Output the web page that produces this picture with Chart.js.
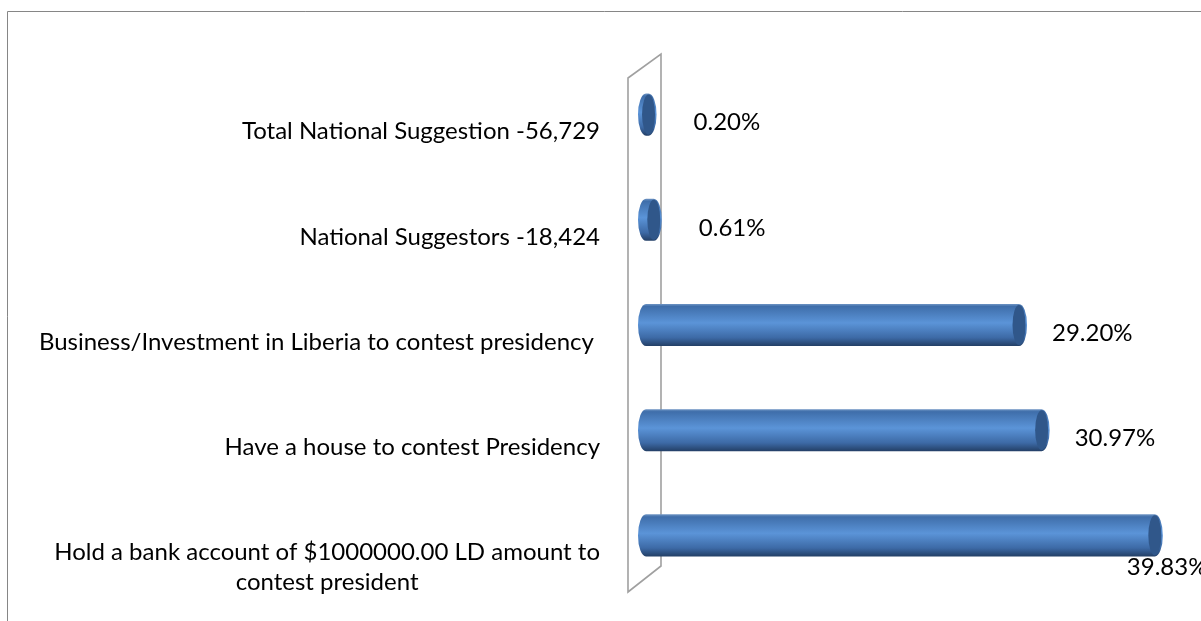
<!DOCTYPE html>
<html>
<head>
<meta charset="utf-8">
<script src="https://cdn.jsdelivr.net/npm/chart.js@4.4.1/dist/chart.umd.min.js"></script>
<style>
  html, body { margin: 0; padding: 0; background: #fff; }
  #wrap { width: 1201px; height: 621px; position: relative; }
</style>
</head>
<body>
<div id="wrap"><canvas id="chart"></canvas></div>
<script>
// categories, top to bottom (multi-line labels as arrays)
const categories = [
    'Total National Suggestion -56,729',
    'National Suggestors -18,424',
    'Business/Investment in Liberia to contest presidency ',
    'Have a house to contest Presidency',
    ['Hold a bank account of $1000000.00 LD amount to', 'contest president']
];
// percentages
const values = [0.20, 0.61, 29.20, 30.97, 39.83];
const valueLabels = ['0.20%', '0.61%', '29.20%', '30.97%', '39.83%'];

const FONT = '24px Lato, Carlito, "Open Sans", sans-serif';

// outer frame of the chart object (only top and left edges are visible)
const framePlugin = {
    id: 'frame',
    beforeDraw(chart) {
        const ctx = chart.ctx;
        ctx.save();
        ctx.strokeStyle = '#868686';
        ctx.lineWidth = 1;
        ctx.beginPath();
        ctx.moveTo(7.5, chart.height);
        ctx.lineTo(7.5, 11.5);
        ctx.lineTo(chart.width, 11.5);
        ctx.stroke();
        ctx.restore();
    }
};

// the thin 3D back wall behind the bars
const wallPlugin = {
    id: 'wall',
    beforeDatasetsDraw(chart) {
        const ctx = chart.ctx;
        const area = chart.chartArea;
        const base = chart.scales.x.getPixelForValue(0);
        const l = base - 18, r = base + 15;
        ctx.save();
        ctx.strokeStyle = '#a0a0a0';
        ctx.lineWidth = 1.6;
        ctx.beginPath();
        ctx.moveTo(l, area.top + 16);
        ctx.lineTo(r, area.top - 8);
        ctx.lineTo(r, area.bottom - 22);
        ctx.lineTo(l, area.bottom + 4);
        ctx.closePath();
        ctx.stroke();
        ctx.restore();
    }
};

// cylinders drawn over the (transparent) bar elements
const cylinderPlugin = {
    id: 'cylinder',
    afterDatasetsDraw(chart) {
        const ctx = chart.ctx;
        const meta = chart.getDatasetMeta(0);
        meta.data.forEach(function(bar) {
            const h = bar.height;
            const top = bar.y - h / 2, bottom = bar.y + h / 2;
            const ry = h / 2, rx = 8;
            const base = bar.base, end = bar.x;

            const grad = ctx.createLinearGradient(0, top, 0, bottom);
            grad.addColorStop(0, '#6f95c4');
            grad.addColorStop(0.06, '#3f6eaa');
            grad.addColorStop(0.45, '#5b94d8');
            grad.addColorStop(0.8, '#3d6aa6');
            grad.addColorStop(1, '#233f66');

            ctx.save();
            ctx.beginPath();
            ctx.moveTo(base, top);
            ctx.lineTo(end, top);
            ctx.ellipse(end, bar.y, rx, ry, 0, -Math.PI / 2, Math.PI / 2);
            ctx.lineTo(base, bottom);
            ctx.ellipse(base, bar.y, rx, ry, 0, Math.PI / 2, Math.PI * 1.5);
            ctx.closePath();
            ctx.fillStyle = grad;
            ctx.fill();

            // end cap
            ctx.beginPath();
            ctx.ellipse(end, bar.y, rx - 1.5, ry - 1, 0, 0, Math.PI * 2);
            ctx.fillStyle = '#30578a';
            ctx.fill();
            ctx.restore();
        });
    }
};

// category labels and value labels
const labelPlugin = {
    id: 'labels',
    afterDraw(chart) {
        const ctx = chart.ctx;
        const yScale = chart.scales.y;
        const xScale = chart.scales.x;
        ctx.save();
        ctx.font = FONT;
        ctx.fillStyle = '#000';
        ctx.textBaseline = 'middle';

        // category labels: block right-aligned at x=600, lines centered in the block
        const right = 600;
        categories.forEach(function(cat, i) {
            const lines = Array.isArray(cat) ? cat : [cat];
            const y = yScale.getPixelForValue(i) + 17;
            const w = Math.max.apply(null, lines.map(s => ctx.measureText(s).width));
            ctx.textAlign = lines.length > 1 ? 'center' : 'right';
            lines.forEach(function(line, k) {
                const x = lines.length > 1 ? right - w / 2 : right;
                ctx.fillText(line, x, y + k * 30);
            });
        });

        // value labels beside the cylinder ends
        ctx.textAlign = 'left';
        values.forEach(function(v, i) {
            const endX = xScale.getPixelForValue(v);
            const y = yScale.getPixelForValue(i);
            const text = valueLabels[i];
            const w = ctx.measureText(text).width;
            let x = endX + (v < 1 ? 45 : 33);
            let ty = y + 8;
            if (x + w > chart.width + 20) {
                // no room at the side: drop it under the bar end
                x = endX - 28;
                ty = y + 32;
            }
            ctx.fillText(text, x, ty);
        });
        ctx.restore();
    }
};

new Chart(document.getElementById('chart'), {
    type: 'bar',
    data: {
        labels: categories,
        datasets: [{
            data: values,
            backgroundColor: 'rgba(0,0,0,0)',
            borderWidth: 0,
            categoryPercentage: 1,
            barPercentage: 0.4
        }]
    },
    options: {
        indexAxis: 'y',
        responsive: true,
        maintainAspectRatio: false,
        animation: false,
        layout: { padding: { left: 646, right: 44, top: 62, bottom: 33 } },
        scales: {
            x: { display: false, min: 0, max: 40 },
            y: { display: false }
        },
        plugins: {
            legend: { display: false },
            tooltip: { enabled: false }
        }
    },
    plugins: [framePlugin, wallPlugin, cylinderPlugin, labelPlugin]
});
</script>
</body>
</html>
